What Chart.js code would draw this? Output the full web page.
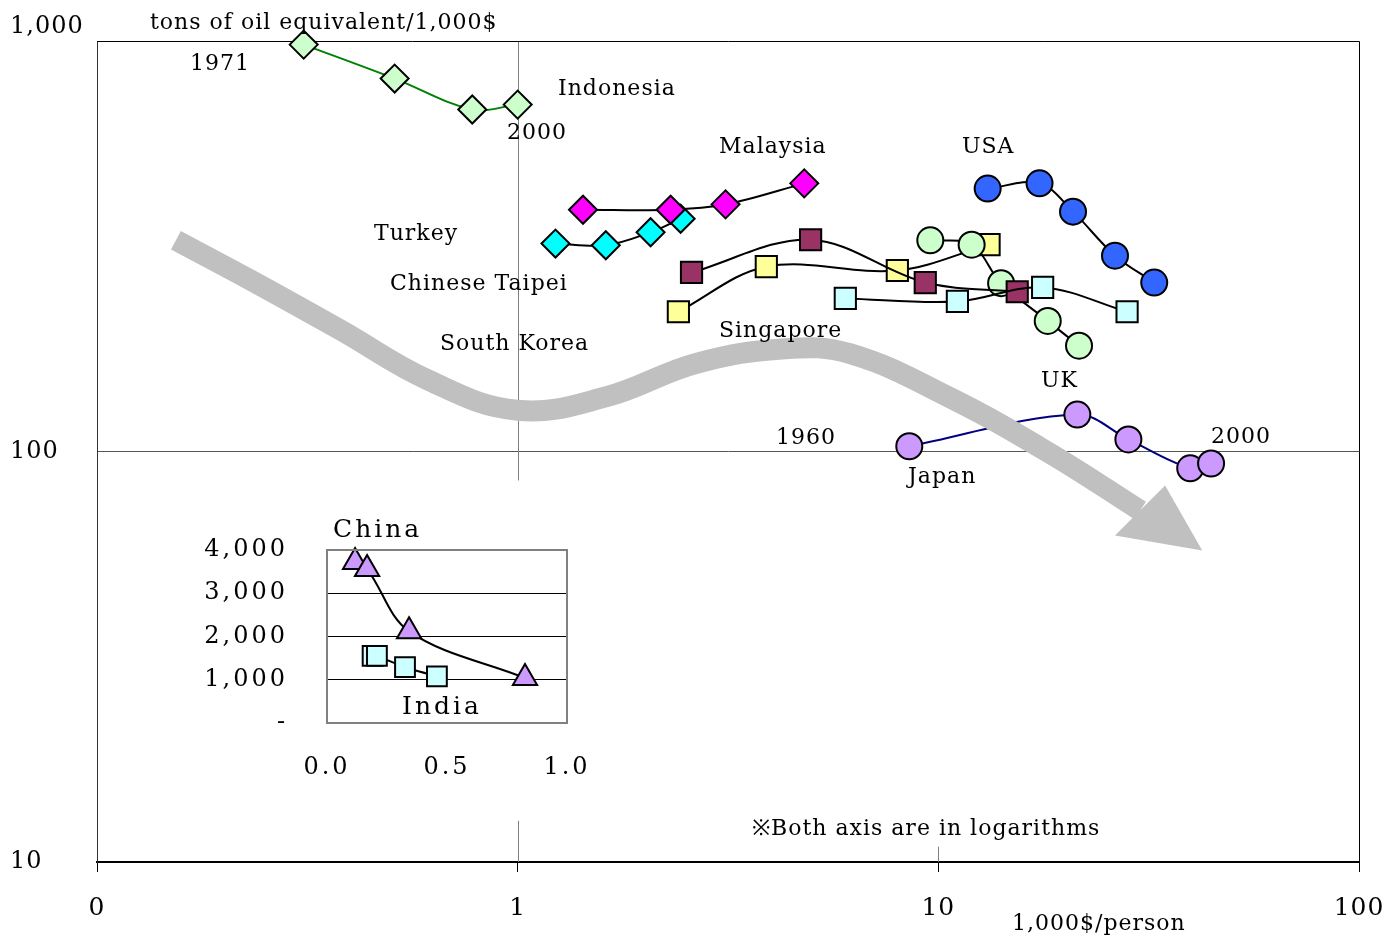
<!DOCTYPE html>
<html>
<head>
<meta charset="utf-8">
<script src="https://cdn.jsdelivr.net/npm/chart.js@4.4.1/dist/chart.umd.min.js"></script>
<style>
  html, body { margin: 0; padding: 0; background: #fff; }
  #wrap { position: relative; width: 1398px; height: 937px; }
  #main { position: absolute; left: 0; top: 0; }
  #inset { position: absolute; left: 180px; top: 500px; }
</style>
</head>
<body>
<div id="wrap">
  <canvas id="main" width="1398" height="937"></canvas>
  <canvas id="inset" width="420" height="290"></canvas>
</div>
<script>
// income (1,000$/person) vs energy intensity (toe/1,000$), both log
const indonesiaX = [0.31, 0.51, 0.78, 1.0];
const indonesiaY = [980, 810, 681, 700];
const malaysiaX = [1.43, 2.31, 3.12, 4.80];
const malaysiaY = [388, 388, 400, 450];
const turkeyX = [1.23, 1.62, 2.07, 2.44];
const turkeyY = [321, 318, 342, 369];
const koreaX = [2.59, 4.97, 9.31, 15.4];
const koreaY = [273, 328, 258, 245];
const taipeiX = [2.41, 3.90, 7.99, 13.2];
const taipeiY = [219, 282, 276, 319];
const singaporeX = [6.01, 11.1, 17.7, 28.1];
const singaporeY = [236, 232, 251, 219];
const ukX = [9.57, 12.0, 14.1, 18.2, 21.6];
const ukY = [327, 319, 257, 208, 181];
const usaX = [13.1, 17.4, 20.9, 26.3, 32.6];
const usaY = [437, 450, 384, 300, 258];
const japanX = [8.53, 21.4, 28.3, 39.7, 44.5];
const japanY = [103, 123, 107, 91, 93.5];

// the big grey trend arrow (shaft + head)
const arrowX = [0.154, 0.231, 0.378, 0.615, 1.0, 1.627, 2.66, 4.33, 6.18, 10.7, 18.45, 30.2];
const arrowY = [327, 262, 198, 149, 126, 136, 164, 178, 173, 135, 98.9, 71.8];
const headX = [26.3, 42.4, 34.6];
const headY = [62.4, 57.4, 82.6];

// inset: China / India (linear)
const chinaX = [0.117, 0.167, 0.342, 0.825];
const chinaY = [3720, 3560, 2120, 1040];
const indiaX = [0.19, 0.208, 0.325, 0.458];
const indiaY = [1550, 1550, 1290, 1080];

const xTicks = [0.1, 1, 10, 100];
const xTickLabels = ['0', '1', '10', '100'];
const yTicks = [10, 100, 1000];
const yTickLabels = ['10', '100', ['1,000', '']];

const SERIF = '"DejaVu Serif", serif';
Chart.defaults.font.family = SERIF;
Chart.defaults.color = '#000';

const pts = (xs, ys) => xs.map((x, i) => ({ x: x, y: ys[i] }));

function series(xs, ys, style, fill, lineColor) {
  const r = style === 'rectRot' ? 14 : style === 'rect' ? 15 : 13;
  return {
    data: pts(xs, ys),
    showLine: true,
    tension: 0.35,
    borderColor: lineColor || '#000',
    borderWidth: 2,
    pointStyle: style,
    pointRadius: r,
    pointBackgroundColor: fill,
    pointBorderColor: '#000',
    pointBorderWidth: 2,
    clip: false
  };
}

const notes = [
  ['tons of oil equivalent/1,000$', 150, 23],
  ['1971', 190, 64],
  ['Indonesia', 558, 89],
  ['2000', 507, 133],
  ['Malaysia', 719, 147],
  ['USA', 962, 147],
  ['Turkey', 374, 234],
  ['Chinese Taipei', 390, 284],
  ['South Korea', 440, 344],
  ['Singapore', 719, 331],
  ['UK', 1041, 381],
  ['1960', 776, 438],
  ['2000', 1211, 437],
  ['Japan', 908, 477],
  ['※Both axis are in logarithms', 752, 829],
  ['1,000$/person', 1012, 924]
];

// canvas resize resets the context, so set spacing right before drawing
const spacing = px => ({
  id: 'spacing',
  beforeDraw(chart) { chart.ctx.letterSpacing = px; }
});

const framePlugin = {
  id: 'frame',
  beforeDatasetsDraw(chart) {
    const { ctx, chartArea: a, scales: { x, y } } = chart;
    ctx.save();
    // partial vertical lines (as in the original sheet)
    ctx.strokeStyle = '#808080';
    ctx.lineWidth = 1;
    const x1 = Math.round(x.getPixelForValue(1)) + 0.5;
    const x10 = Math.round(x.getPixelForValue(10)) + 0.5;
    ctx.beginPath();
    ctx.moveTo(x1, a.top); ctx.lineTo(x1, y.getPixelForValue(85));
    ctx.moveTo(x1, y.getPixelForValue(12.6)); ctx.lineTo(x1, a.bottom);
    ctx.moveTo(x10, y.getPixelForValue(10.9)); ctx.lineTo(x10, a.bottom);
    ctx.stroke();
    // top and right frame
    ctx.strokeStyle = '#000';
    ctx.beginPath();
    ctx.moveTo(a.left, a.top + 0.5); ctx.lineTo(a.right + 0.5, a.top + 0.5);
    ctx.lineTo(a.right + 0.5, a.bottom);
    ctx.stroke();
    ctx.restore();
  },
  afterDatasetsDraw(chart) {
    const { ctx, scales: { x, y } } = chart;
    ctx.save();
    ctx.fillStyle = '#c0c0c0';
    ctx.beginPath();
    headX.forEach((v, i) => {
      const px = x.getPixelForValue(v), py = y.getPixelForValue(headY[i]);
      if (i === 0) ctx.moveTo(px, py); else ctx.lineTo(px, py);
    });
    ctx.closePath();
    ctx.fill();
    ctx.fillStyle = '#000';
    ctx.font = '22px ' + SERIF;
    ctx.letterSpacing = '1px';
    ctx.textAlign = 'left';
    ctx.textBaseline = 'middle';
    notes.forEach(n => ctx.fillText(n[0], n[1], n[2]));
    ctx.restore();
  }
};

new Chart(document.getElementById('main'), {
  type: 'scatter',
  data: {
    datasets: [
      {
        data: pts(arrowX, arrowY), showLine: true, tension: 0.4,
        borderColor: '#c0c0c0', borderWidth: 21, borderCapStyle: 'butt',
        pointRadius: 0, clip: false
      },
      series(indonesiaX, indonesiaY, 'rectRot', '#ccffcc', '#008000'),
      series(malaysiaX, malaysiaY, 'rectRot', '#ff00ff'),
      series(turkeyX, turkeyY, 'rectRot', '#00ffff'),
      series(singaporeX, singaporeY, 'rect', '#ccffff'),
      series(koreaX, koreaY, 'rect', '#993366'),
      series(ukX, ukY, 'circle', '#ccffcc'),
      series(taipeiX, taipeiY, 'rect', '#ffff99'),
      series(usaX, usaY, 'circle', '#3366ff'),
      series(japanX, japanY, 'circle', '#cc99ff', '#000080')
    ]
  },
  options: {
    responsive: false,
    animation: false,
    layout: { padding: { left: 10, top: 41, right: 39, bottom: 0 } },
    plugins: { legend: { display: false }, tooltip: { enabled: false } },
    scales: {
      x: {
        type: 'logarithmic', min: 0.1, max: 100,
        afterFit: s => { s.height = 75; s.paddingLeft = 0; s.paddingRight = 0; },
        afterBuildTicks: s => { s.ticks = xTicks.map(v => ({ value: v })); },
        ticks: {
          font: { size: 25 }, padding: 21, maxRotation: 0,
          callback: (v) => xTickLabels[xTicks.indexOf(v)]
        },
        grid: { drawOnChartArea: false, drawTicks: true, tickLength: 10, color: '#000' },
        border: { color: '#000', width: 2 }
      },
      y: {
        type: 'logarithmic', min: 10, max: 1000,
        afterFit: s => { s.width = 87; s.paddingTop = 0; s.paddingBottom = 0; },
        afterBuildTicks: s => { s.ticks = yTicks.map(v => ({ value: v })); },
        ticks: {
          font: { size: 24 }, crossAlign: 'far',
          callback: (v) => yTickLabels[yTicks.indexOf(v)]
        },
        grid: { drawTicks: false, color: c => c.tick && c.tick.value === 100 ? '#555' : 'rgba(0,0,0,0)' },
        border: { color: '#333', width: 1 }
      }
    }
  },
  plugins: [spacing('1px'), framePlugin]
});

const insetPlugin = {
  id: 'insetFrame',
  afterDraw(chart) {
    const { ctx, chartArea: a } = chart;
    ctx.save();
    ctx.strokeStyle = '#808080';
    ctx.lineWidth = 2;
    ctx.strokeRect(a.left, a.top, a.right - a.left, a.bottom - a.top);
    ctx.fillStyle = '#000';
    ctx.font = '25px ' + SERIF;
    ctx.letterSpacing = '3px';
    ctx.textAlign = 'left';
    ctx.textBaseline = 'middle';
    ctx.fillText('China', 153, 30);
    ctx.fillText('India', 222, 207);
    ctx.restore();
  }
};

new Chart(document.getElementById('inset'), {
  type: 'scatter',
  data: {
    datasets: [
      {
        data: pts(chinaX, chinaY), showLine: true, tension: 0.35,
        borderColor: '#000', borderWidth: 2,
        pointStyle: 'triangle', pointRadius: 14,
        pointBackgroundColor: '#cc99ff', pointBorderColor: '#000', pointBorderWidth: 2, clip: false
      },
      {
        data: pts(indiaX, indiaY), showLine: true, tension: 0.2,
        borderColor: '#000', borderWidth: 2,
        pointStyle: 'rect', pointRadius: 14,
        pointBackgroundColor: '#ccffff', pointBorderColor: '#000', pointBorderWidth: 2, clip: false
      }
    ]
  },
  options: {
    responsive: false,
    animation: false,
    layout: { padding: { left: 0, top: 50, right: 33, bottom: 0 } },
    plugins: { legend: { display: false }, tooltip: { enabled: false } },
    scales: {
      x: {
        type: 'linear', min: 0, max: 1,
        afterFit: s => { s.height = 67; s.paddingLeft = 0; s.paddingRight = 0; },
        ticks: { stepSize: 0.5, font: { size: 24 }, padding: 30, callback: v => v.toFixed(1) },
        grid: { display: false, drawTicks: false },
        border: { display: false }
      },
      y: {
        type: 'linear', min: 0, max: 4000,
        afterFit: s => { s.width = 147; s.paddingTop = 0; s.paddingBottom = 0; },
        ticks: {
          stepSize: 1000, font: { size: 24 }, padding: 39,
          callback: v => v === 0 ? '-' : v.toLocaleString('en-US')
        },
        grid: { drawTicks: false, color: c => c.tick && c.tick.value > 0 && c.tick.value < 4000 ? '#000' : 'rgba(0,0,0,0)' },
        border: { display: false }
      }
    }
  },
  plugins: [spacing('3px'), insetPlugin]
});
</script>
</body>
</html>
